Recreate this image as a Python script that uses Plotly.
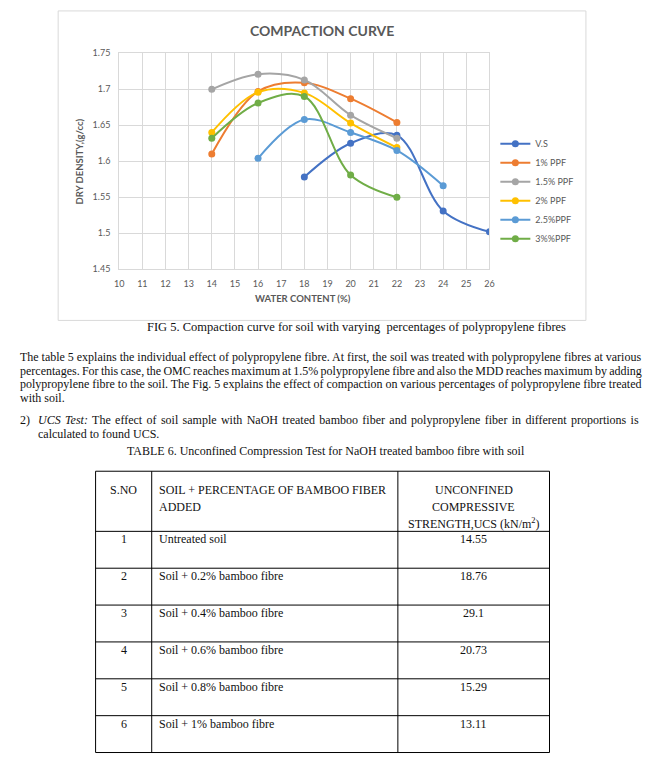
import plotly.graph_objects as go

# ---------------- data ----------------
series_names = ["V.S", "1% PPF", "1.5% PPF", "2% PPF", "2.5%PPF", "3%%PPF"]
vs_x = [18, 20, 22, 24, 26]
vs_y = [1.578, 1.625, 1.636, 1.531, 1.502]
ppf1_x = [14, 16, 18, 20, 22]
ppf1_y = [1.610, 1.697, 1.709, 1.687, 1.654]
ppf15_x = [14, 16, 18, 20, 22]
ppf15_y = [1.700, 1.721, 1.713, 1.664, 1.632]
ppf2_x = [14, 16, 18, 20, 22]
ppf2_y = [1.640, 1.696, 1.695, 1.653, 1.619]
ppf25_x = [16, 18, 20, 22, 24]
ppf25_y = [1.604, 1.658, 1.640, 1.615, 1.566]
ppf3_x = [14, 16, 18, 20, 22]
ppf3_y = [1.632, 1.681, 1.690, 1.581, 1.550]

x_ticks = list(range(10, 27))
y_ticks = [1.45, 1.5, 1.55, 1.6, 1.65, 1.7, 1.75]
y_tick_labels = ["1.45", "1.5", "1.55", "1.6", "1.65", "1.7", "1.75"]

chart_title = "COMPACTION CURVE"
x_title = "WATER CONTENT (%)"
y_title = "DRY DENSITY,(g/cc)"
caption = "FIG 5. Compaction curve for soil with varying  percentages of polypropylene fibres"
para_lines = [
    "The table 5 explains the individual effect of polypropylene fibre. At first, the soil was treated with polypropylene fibres at various",
    "percentages. For this case, the OMC reaches maximum at 1.5% polypropylene fibre and also the MDD reaches maximum by adding",
    "polypropylene fibre to the soil. The Fig. 5 explains the effect of compaction on various percentages of polypropylene fibre treated",
    "with soil.",
]
item_num = "2)"
item_head = "UCS Test:"
item_lines = [
    " The effect of soil sample with NaOH treated bamboo fiber and polypropylene fiber in different proportions is",
    "calculated to found UCS.",
]
table_title = "TABLE 6. Unconfined Compression Test for NaOH treated bamboo fibre with soil"
table_header_col1 = ["S.NO"]
table_header_col2 = ["SOIL + PERCENTAGE OF BAMBOO FIBER", "ADDED"]
table_header_col3 = ["UNCONFINED", "COMPRESSIVE", "STRENGTH,UCS (kN/m<sup>2</sup>)"]
table_sno = ["1", "2", "3", "4", "5", "6"]
table_desc = ["Untreated soil", "Soil + 0.2% bamboo fibre", "Soil + 0.4% bamboo fibre",
              "Soil + 0.6% bamboo fibre", "Soil + 0.8% bamboo fibre", "Soil + 1% bamboo fibre"]
table_ucs = ["14.55", "18.76", "29.1", "20.73", "15.29", "13.11"]

# ---------------- layout helpers ----------------
W, H = 651, 766
def fx(x):
    return x / W
def fy(y):
    return 1 - y / H

colors = ["#4472C4", "#ED7D31", "#A5A5A5", "#FFC000", "#5B9BD5", "#70AD47"]
xs = [vs_x, ppf1_x, ppf15_x, ppf2_x, ppf25_x, ppf3_x]
ys = [vs_y, ppf1_y, ppf15_y, ppf2_y, ppf25_y, ppf3_y]

# Times New Roman advance widths (em) for justification
TNR = {
    'a': .444, 'b': .5, 'c': .444, 'd': .5, 'e': .444, 'f': .333, 'g': .5, 'h': .5, 'i': .278,
    'j': .278, 'k': .5, 'l': .278, 'm': .778, 'n': .5, 'o': .5, 'p': .5, 'q': .5, 'r': .333,
    's': .389, 't': .278, 'u': .5, 'v': .5, 'w': .722, 'x': .5, 'y': .5, 'z': .444,
    'A': .722, 'B': .667, 'C': .667, 'D': .722, 'E': .611, 'F': .556, 'G': .722, 'H': .722,
    'I': .333, 'J': .389, 'K': .722, 'L': .611, 'M': .889, 'N': .722, 'O': .722, 'P': .556,
    'Q': .722, 'R': .667, 'S': .556, 'T': .611, 'U': .722, 'V': .722, 'W': .944, 'X': .722,
    'Y': .722, 'Z': .611, ' ': .25, '.': .25, ',': .25, '%': .833, '(': .333, ')': .333,
    ':': .278, '+': .564, '-': .333, '/': .278,
}
def tnr_width(s, size):
    return sum(TNR.get(c, .5) for c in s) * size

BODY = 12
SERIF = "Liberation Serif"

def justified(text, x0, x1, size):
    nat = tnr_width(text, size)
    n = text.strip().count(' ')
    if n == 0:
        return text
    ws = (x1 - x0 - nat) / n
    return '<span style="word-spacing:%.2fpx">%s</span>' % (ws, text)

fig = go.Figure()
for name, x, y, c in zip(series_names, xs, ys, colors):
    fig.add_trace(go.Scatter(
        x=x, y=y, name=name, mode="lines+markers",
        line=dict(color=c, width=2, shape="spline", smoothing=1.0),
        marker=dict(color=c, size=7),
    ))

PL, PR, PT, PB = 116, 492, 48, 267
axis_font = dict(family="Lato", size=9, color="#595959")
fig.update_layout(
    width=W, height=H, autosize=False,
    margin=dict(l=0, r=0, t=0, b=0),
    paper_bgcolor="white", plot_bgcolor="white",
    xaxis=dict(domain=[fx(PL), fx(PR)], range=[10, 26], tickvals=x_ticks,
               showgrid=True, gridcolor="#D9D9D9", gridwidth=1, zeroline=False,
               showline=True, linecolor="#D9D9D9", mirror=True,
               ticks="", tickfont=axis_font, ticklabelstandoff=6),
    yaxis=dict(domain=[fy(PB), fy(PT)], range=[1.45, 1.75], tickvals=y_ticks, ticktext=y_tick_labels,
               showgrid=True, gridcolor="#D9D9D9", gridwidth=1, zeroline=False,
               showline=True, linecolor="#D9D9D9", mirror=True,
               ticks="", tickfont=axis_font, ticklabelstandoff=6),
    legend=dict(x=fx(498), y=fy(125), xanchor="left", yanchor="top",
                font=dict(family="Lato", size=9, color="#595959"),
                bgcolor="rgba(0,0,0,0)", itemwidth=30),
    showlegend=True,
)

shapes = []
# chart frame
shapes.append(dict(type="rect", xref="paper", yref="paper", x0=fx(54), x1=fx(590), y0=fy(319), y1=fy(5),
                   line=dict(color="#D9D9D9", width=1), layer="below"))

ann = []
ann.append(dict(text="<b>%s</b>" % chart_title, x=fx(322), y=fy(25), xref="paper", yref="paper",
                showarrow=False, xanchor="center", yanchor="middle",
                font=dict(family="Lato", size=14, color="#595959")))
ann.append(dict(text="<b>%s</b>" % x_title, x=fx(303), y=fy(297), xref="paper", yref="paper",
                showarrow=False, xanchor="center", yanchor="middle",
                font=dict(family="Lato", size=9.5, color="#595959")))
ann.append(dict(text="<b>%s</b>" % y_title, x=fx(76), y=fy(158), xref="paper", yref="paper",
                showarrow=False, xanchor="center", yanchor="middle", textangle=-90,
                font=dict(family="Lato", size=9.5, color="#595959")))

def text_ann(t, x, y, anchor="left", size=BODY, color="#111111"):
    ann.append(dict(text=t, x=fx(x), y=fy(y), xref="paper", yref="paper", showarrow=False,
                    xanchor=anchor, yanchor="middle", borderpad=0,
                    font=dict(family=SERIF, size=size, color=color)))

# caption
text_ann(caption, 357, 326, anchor="center", size=12.5)
# paragraph
para_y = [356, 370, 384, 398]
for i, (line, yy) in enumerate(zip(para_lines, para_y)):
    t = justified(line, 14, 636, BODY) if i < len(para_lines) - 1 else line
    text_ann(t, 14, yy)
# numbered item
text_ann(item_num, 14, 420)
first = item_head + item_lines[0]
nat = tnr_width(first, BODY)
ws = (636 - 33 - nat) / first.count(' ')
text_ann('<span style="word-spacing:%.2fpx"><i>%s</i>%s</span>' % (ws, item_head, item_lines[0]), 33, 420)
text_ann(item_lines[1], 33, 434)
# table title
text_ann(table_title, 326, 451, anchor="center")

# table grid
TL, C1, C2, TR = 92, 149, 399, 553
TT, HB = 472, 533
ROW_H = 37.4
bottom = HB + ROW_H * len(table_sno)
line_style = dict(color="#000000", width=1)
for xv in [TL, C1, C2, TR]:
    shapes.append(dict(type="line", xref="paper", yref="paper", x0=fx(xv), x1=fx(xv),
                       y0=fy(TT), y1=fy(bottom), line=line_style))
for yv in [TT, HB] + [HB + ROW_H * (i + 1) for i in range(len(table_sno))]:
    shapes.append(dict(type="line", xref="paper", yref="paper", x0=fx(TL), x1=fx(TR),
                       y0=fy(yv), y1=fy(yv), line=line_style))

# header texts
hdr_y = [491, 508, 525]
for t, yy in zip(table_header_col1, hdr_y):
    text_ann(t, (TL + C1) / 2, yy, anchor="center")
for t, yy in zip(table_header_col2, hdr_y):
    text_ann(t, C1 + 6, yy)
for t, yy in zip(table_header_col3, hdr_y):
    text_ann(t, (C2 + TR) / 2, yy, anchor="center")
# rows
for i, (s, d, u) in enumerate(zip(table_sno, table_desc, table_ucs)):
    yy = HB + ROW_H * i + 8
    text_ann(s, (TL + C1) / 2, yy, anchor="center")
    text_ann(d, C1 + 6, yy)
    text_ann(u, (C2 + TR) / 2, yy, anchor="center")

fig.update_layout(shapes=shapes, annotations=ann)

post = ("document.documentElement.style.margin='0';"
        "document.body.style.margin='0';"
        "document.body.style.padding='0';"
        "document.body.style.overflow='hidden';")
fig.write_html("out.html", post_script=post, config={"displayModeBar": False})
